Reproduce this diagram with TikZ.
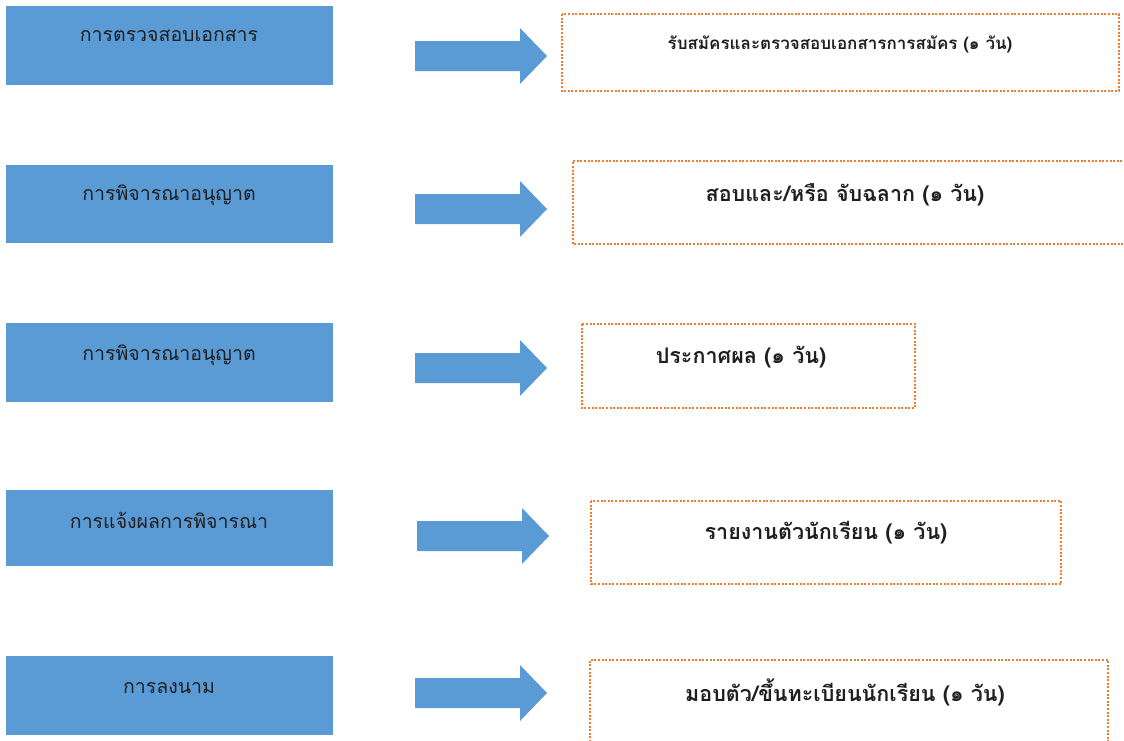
\documentclass[tikz,border=0pt]{standalone}
\usepackage{fontspec}
\newfontfamily\thaifont[Script=Thai]{Loma}
\definecolor{boxblue}{HTML}{5B9BD5}
\definecolor{dotorange}{HTML}{ED7D31}
\definecolor{txtdark}{HTML}{1F1F1F}
\newcommand\fatarrow[3]{% left x, tip x, center y
  \fill[boxblue] (#1,#3-15) -- (#2-27,#3-15) -- (#2-27,#3-28) -- (#2,#3) -- (#2-27,#3+28) -- (#2-27,#3+15) -- (#1,#3+15) -- cycle;}
\begin{document}
\begin{tikzpicture}[x=1pt,y=-1pt,
  bluebox/.style={fill=boxblue,draw=none,inner sep=0pt},
  bluetxt/.style={font=\thaifont\fontsize{19.5}{22}\selectfont,text=txtdark,inner sep=0pt},
  dotline/.style={draw=dotorange,line width=2.2pt,dash pattern=on 2pt off 1.6pt},
  redtxt/.style={font=\thaifont\bfseries\fontsize{21.5}{24}\selectfont,text=txtdark,inner sep=0pt}]
\useasboundingbox (0,0) rectangle (1124,740);
% left boxes
\node[bluebox,minimum width=327pt,minimum height=79pt] (b1) at (169.5,45.5) {};
\node[bluebox,minimum width=327pt,minimum height=78pt] (b2) at (169.5,204) {};
\node[bluebox,minimum width=327pt,minimum height=79pt] (b3) at (169.5,362.5) {};
\node[bluebox,minimum width=327pt,minimum height=76pt] (b4) at (169.5,528) {};
\node[bluebox,minimum width=327pt,minimum height=79pt] (b5) at (169.5,695.5) {};
\node[bluetxt] (t1) at (169,36) {การตรวจสอบเอกสาร};
\node[bluetxt] (t2) at (169,195) {การพิจารณาอนุญาต};
\node[bluetxt] (t3) at (169,355) {การพิจารณาอนุญาต};
\node[bluetxt] (t4) at (169,520) {การแจ้งผลการพิจารณา};
\node[bluetxt] (t5) at (169,688) {การลงนาม};
% arrows
\fatarrow{415}{547}{56}
\fatarrow{415}{547}{209}
\fatarrow{415}{547}{368}
\fatarrow{417}{549}{536}
\fatarrow{415}{547}{693}
% right boxes
\draw[dotline] (562,14) rectangle (1119,91);
\draw[dotline] (1126,161) -- (573,161) -- (573,244) -- (1126,244);
\draw[dotline] (582,324) rectangle (915,408);
\draw[dotline] (591,501) rectangle (1061,584);
\draw[dotline] (590,742) -- (590,660) -- (1108,660) -- (1108,742);
\node[redtxt,font=\thaifont\bfseries\fontsize{17}{20}\selectfont] (s1) at (840,44) {รับสมัครและตรวจสอบเอกสารการสมัคร (๑ วัน)};
\node[redtxt] (s2) at (845,195) {สอบและ/หรือ จับฉลาก (๑ วัน)};
\node[redtxt] (s3) at (741,357) {ประกาศผล (๑ วัน)};
\node[redtxt] (s4) at (826,533) {รายงานตัวนักเรียน (๑ วัน)};
\node[redtxt] (s5) at (845,692) {มอบตัว/ขึ้นทะเบียนนักเรียน (๑ วัน)};
\end{tikzpicture}
\end{document}
